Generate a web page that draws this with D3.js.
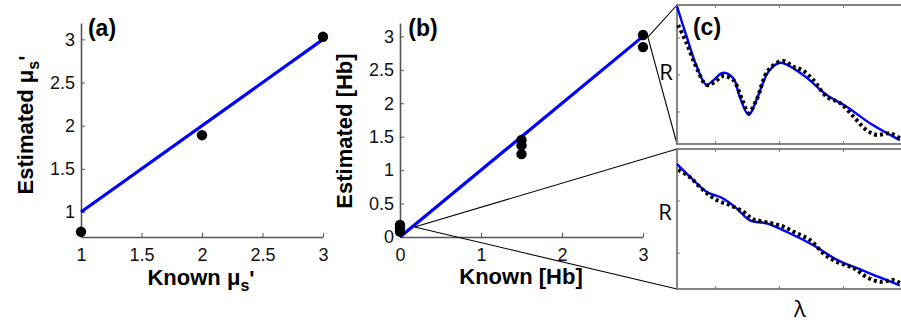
<!DOCTYPE html>
<html>
<head>
<meta charset="utf-8">
<script src="https://cdn.jsdelivr.net/npm/d3@7"></script>
<style>
  body { margin: 0; background: #fff; }
  svg { display: block; font-family: "Liberation Sans", Arial, sans-serif; }
  .tick text { font-size: 18px; fill: #111; }
  .axis path, .axis line { stroke: #555; }
</style>
</head>
<body>
<div id="chart"></div>
<script>
// (a) scattering coefficient
const muKnown = [1, 2, 3];
const muEst = [0.77, 1.89, 3.03];
const muFitKnown = [1, 3];
const muFitEst = [1, 3];
const muTicksX = [1, 1.5, 2, 2.5, 3];
const muTicksY = [1, 1.5, 2, 2.5, 3];

// (b) hemoglobin
const hbKnown = [0, 0, 0, 1.5, 1.5, 1.5, 3, 3];
const hbEst = [0.08, 0.13, 0.18, 1.45, 1.37, 1.24, 3.02, 2.84];
const hbFitKnown = [0, 3];
const hbFitEst = [0, 3];
const hbTicksX = [0, 1, 2, 3];
const hbTicksY = [0, 0.5, 1, 1.5, 2, 2.5, 3];
// points of (b) that the zoom lines start from
const zoomHigh = [3.06, 2.99];
const zoomLow = [0.18, 0.15];

// (c) spectra, top (high Hb)
const topFitLambda = [440, 455, 471, 486, 497, 512, 528, 538, 552, 564, 583, 601, 637, 674, 705, 742, 788];
const topFitR = [0.485, 0.404, 0.322, 0.273, 0.286, 0.306, 0.291, 0.241, 0.192, 0.232, 0.309, 0.333, 0.300, 0.246, 0.214, 0.169, 0.124];
const topMeasLambda = [442, 455, 471, 486, 497, 512, 528, 542, 552, 564, 583, 606, 622, 637, 653, 674, 695, 716, 736, 752, 773, 788];
const topMeasR = [0.435, 0.386, 0.318, 0.273, 0.279, 0.297, 0.286, 0.232, 0.198, 0.232, 0.314, 0.338, 0.322, 0.312, 0.286, 0.241, 0.224, 0.187, 0.151, 0.138, 0.142, 0.129];
// (c) spectra, bottom (no Hb)
const botFitLambda = [440, 460, 486, 512, 533, 554, 580, 611, 653, 690, 721, 762, 788];
const botFitR = [0.271, 0.247, 0.218, 0.205, 0.186, 0.163, 0.157, 0.141, 0.115, 0.087, 0.071, 0.051, 0.038];
const botMeasLambda = [442, 460, 481, 502, 523, 544, 559, 585, 606, 627, 648, 669, 690, 716, 736, 757, 778, 788];
const botMeasR = [0.260, 0.246, 0.221, 0.202, 0.192, 0.179, 0.165, 0.158, 0.151, 0.138, 0.125, 0.099, 0.083, 0.071, 0.054, 0.045, 0.048, 0.043];
const lambdaTicks = [500, 600, 700];
const topTicksR = [0.2, 0.3, 0.4];
const botTicksR = [0.1, 0.2];

const W = 901, H = 324;
const BLUE = "#0000ff";
const AXIS = "#555";

const svg = d3.select("#chart").append("svg")
  .attr("width", W).attr("height", H);

const zip = (xs, ys) => xs.map((x, i) => [x, ys[i]]);

function scatterPanel(opts) {
  const x = d3.scaleLinear().domain(opts.xDomain).range(opts.xRange);
  const y = d3.scaleLinear().domain(opts.yDomain).range(opts.yRange);
  const g = svg.append("g");

  g.append("g").attr("class", "axis")
    .attr("transform", `translate(0,${opts.yRange[0]})`)
    .call(d3.axisBottom(x).tickValues(opts.xTicks).tickSizeInner(-4).tickSizeOuter(0).tickPadding(11).tickFormat(d3.format("~g")))
    .call(s => s.select(".domain").attr("stroke-width", 1.6));
  g.append("g").attr("class", "axis")
    .attr("transform", `translate(${opts.xRange[0]},0)`)
    .call(d3.axisLeft(y).tickValues(opts.yTicks).tickSizeInner(-4).tickSizeOuter(0).tickPadding(6).tickFormat(d3.format("~g")))
    .call(s => s.select(".domain").attr("stroke-width", 1.6));
  g.selectAll(".tick line").attr("stroke", AXIS);

  g.append("path")
    .datum(zip(opts.fitX, opts.fitY))
    .attr("fill", "none").attr("stroke", BLUE).attr("stroke-width", 3.2)
    .attr("d", d3.line().x(d => x(d[0])).y(d => y(d[1])));

  g.selectAll("circle.pt")
    .data(zip(opts.ptX, opts.ptY))
    .enter().append("circle")
    .attr("class", "pt")
    .attr("cx", d => x(d[0])).attr("cy", d => y(d[1]))
    .attr("r", 5.2).attr("fill", "#000");

  return { x, y, g };
}

const a = scatterPanel({
  xDomain: [1, 3], xRange: [81, 323],
  yDomain: [0.71, 3.19], yRange: [237, 23],
  xTicks: muTicksX, yTicks: muTicksY,
  fitX: muFitKnown, fitY: muFitEst, ptX: muKnown, ptY: muEst
});

const b = scatterPanel({
  xDomain: [0, 3], xRange: [400, 643],
  yDomain: [0, 3.2], yRange: [237, 23],
  xTicks: hbTicksX, yTicks: hbTicksY,
  fitX: hbFitKnown, fitY: hbFitEst, ptX: hbKnown, ptY: hbEst
});

// panel labels and axis titles
function boldText(x, y, size, rotate) {
  const t = svg.append("text")
    .attr("x", x).attr("y", y)
    .attr("text-anchor", "middle")
    .style("font-weight", "bold").style("font-size", size + "px").style("fill", "#000");
  if (rotate) t.attr("transform", `rotate(-90,${x},${y})`);
  return t;
}
function muLabel(t, prefix) {
  t.append("tspan").text(prefix + "\u03bc");
  t.append("tspan").attr("dy", 6).style("font-size", "16px").text("s");
  t.append("tspan").attr("dy", -5).text("'");
}

boldText(102, 36, 23).text("(a)");
boldText(423, 36, 23).text("(b)");

muLabel(boldText(201, 285, 22), "Known ");
muLabel(boldText(33, 125, 22, true), "Estimated ");
boldText(521, 284, 22).text("Known [Hb]");
boldText(352, 131, 22, true).text("Estimated [Hb]");

// (c) spectra panels
const xC = d3.scaleLinear().domain([440, 793]).range([677, 903]);
const yTop = d3.scaleLinear().domain([0.1135, 0.489]).range([144, 5]);
const yBot = d3.scaleLinear().domain([0.031, 0.3]).range([289, 149]);

function spectrumPanel(y, yTicks, fitL, fitR, measL, measR) {
  const g = svg.append("g");
  const [y0, y1] = y.range();
  const [x0, x1] = xC.range();
  g.append("rect")
    .attr("x", x0).attr("y", y1).attr("width", x1 - x0).attr("height", y0 - y1)
    .attr("fill", "#fff").attr("stroke", "#777").attr("stroke-width", 1.8);
  g.selectAll("line.xt").data(lambdaTicks).enter().append("line")
    .attr("x1", d => xC(d)).attr("x2", d => xC(d)).attr("y1", y0).attr("y2", y0 - 3)
    .attr("stroke", "#777");
  g.selectAll("line.xt2").data(lambdaTicks).enter().append("line")
    .attr("x1", d => xC(d)).attr("x2", d => xC(d)).attr("y1", y1).attr("y2", y1 + 3)
    .attr("stroke", "#777");
  g.selectAll("line.yt").data(yTicks).enter().append("line")
    .attr("x1", x0).attr("x2", x0 + 3).attr("y1", d => y(d)).attr("y2", d => y(d))
    .attr("stroke", "#777");

  const line = d3.line().curve(d3.curveCatmullRom).x(d => xC(d[0])).y(d => y(d[1]));
  g.append("path").datum(zip(fitL, fitR))
    .attr("fill", "none").attr("stroke", BLUE).attr("stroke-width", 2.4).attr("d", line);
  g.append("path").datum(zip(measL, measR))
    .attr("fill", "none").attr("stroke", "#000").attr("stroke-width", 4)
    .attr("stroke-dasharray", "3,3").attr("d", line);
  return g;
}

// zoom lines from (b) to (c) panels
const zoomLines = [
  [zoomHigh, [xC.range()[0], yTop.range()[1]]],
  [zoomHigh, [xC.range()[0], yTop.range()[0]]],
  [zoomLow, [xC.range()[0], yBot.range()[1]]],
  [zoomLow, [xC.range()[0], yBot.range()[0]]]
];
svg.selectAll("line.zoom").data(zoomLines).enter().append("line")
  .attr("x1", d => b.x(d[0][0])).attr("y1", d => b.y(d[0][1]))
  .attr("x2", d => d[1][0]).attr("y2", d => d[1][1])
  .attr("stroke", "#000").attr("stroke-width", 1.1);

spectrumPanel(yTop, topTicksR, topFitLambda, topFitR, topMeasLambda, topMeasR);
spectrumPanel(yBot, botTicksR, botFitLambda, botFitR, botMeasLambda, botMeasR);
boldText(707, 35, 23).text("(c)");

const plain = (x, y, t) => svg.append("text").attr("x", x).attr("y", y)
  .attr("text-anchor", "middle").style("font-size", "22px")
  .style("font-family", "'Open Sans', sans-serif").text(t);
plain(666, 80, "R");
plain(665, 220, "R");
plain(800, 317, "\u03bb");
</script>
</body>
</html>
